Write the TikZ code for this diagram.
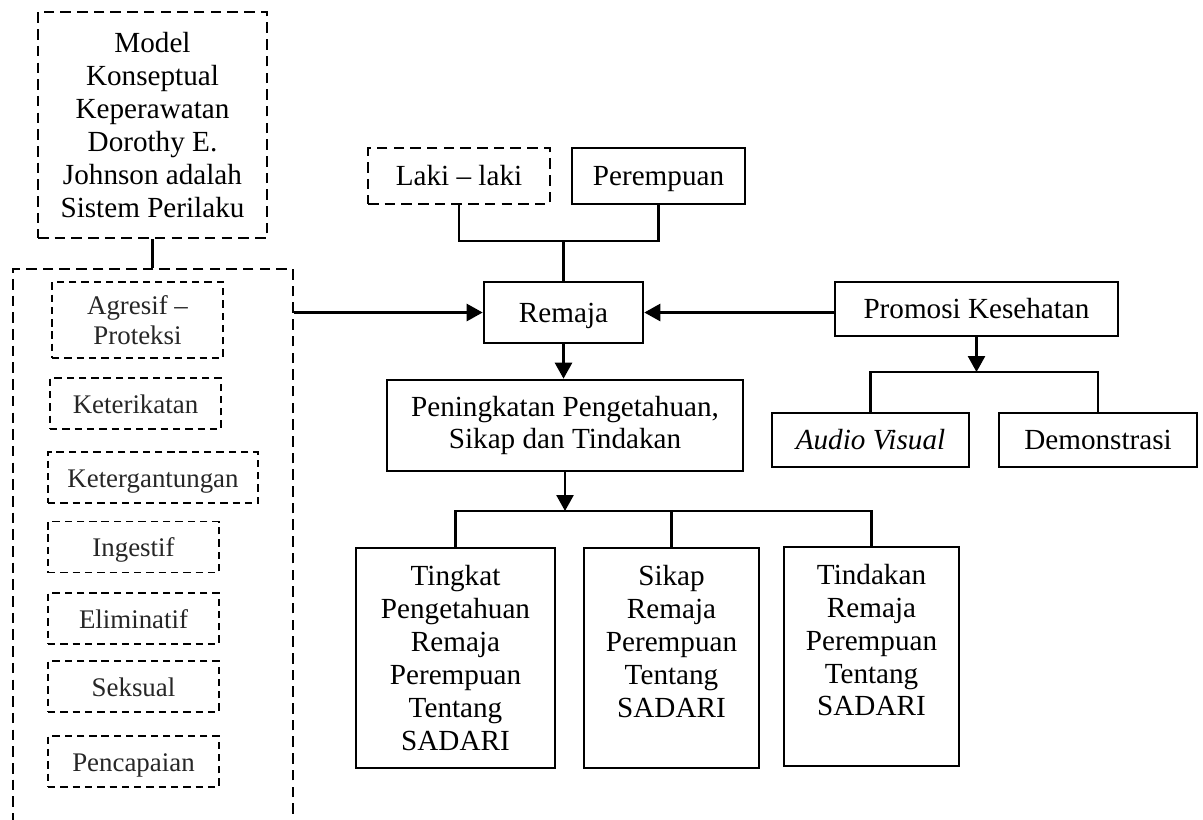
\documentclass[tikz,border=0pt]{standalone}
\usepackage{fontspec}
\setmainfont{Liberation Serif}
\usetikzlibrary{arrows.meta}

\begin{document}
\begin{tikzpicture}[x=0.02cm,y=-0.02cm,
    font=\fontsize{16.6}{18.7}\selectfont,
    box/.style={draw,line width=1.5pt,inner sep=2pt,align=center},
    dbox/.style={box,dash pattern=on 6pt off 3.5pt},
    oneline/.style={text height=11pt,text depth=0pt},
    sbox/.style={draw,line width=0.95pt,dash pattern=on 4.2pt off 2.8pt,align=center,
        text=black!85,font=\fontsize{15.3}{17.2}\selectfont,
        minimum width=3.42cm,minimum height=1.02cm},
    arr/.style={line width=1.5pt,-{Triangle[length=0.32cm,width=0.34cm]}},
    conn/.style={line width=1.5pt}]
\useasboundingbox (0,0) rectangle (1203,819);
\clip (0,0) rectangle (1203,819);
% left column
\node[dbox,minimum width=4.58cm,minimum height=4.52cm] (model) at (152.5,125)
    {Model\\Konseptual\\Keperawatan\\Dorothy E.\\Johnson adalah\\Sistem Perilaku};
\node[dbox,minimum width=5.6cm,minimum height=11.64cm] (perilaku) at (153,560) {};
\node[sbox,minimum height=1.52cm] (agresif) at (137.5,320) {Agresif --\\Proteksi};
\node[sbox,oneline] (keterikatan) at (135.5,403.5) {Keterikatan};
\node[sbox,oneline,minimum width=4.2cm] (ketergantungan) at (153,477.5) {Ketergantungan};
\node[sbox,oneline] (ingestif) at (133.5,547) {Ingestif};
\node[sbox,oneline] (eliminatif) at (133.5,618.5) {Eliminatif};
\node[sbox,oneline] (seksual) at (133.5,686.5) {Seksual};
\node[sbox,oneline] (pencapaian) at (133.5,761.5) {Pencapaian};
\draw[conn] (model.south) -- (model.south |- perilaku.north);
% middle
\node[dbox,oneline,minimum width=3.64cm,minimum height=1.12cm] (laki) at (459,176) {Laki -- laki};
\node[box,oneline,minimum width=3.46cm,minimum height=1.12cm] (perempuan) at (658.5,176) {Perempuan};
\node[box,oneline,minimum width=3.18cm,minimum height=1.22cm] (remaja) at (563.5,312.5) {Remaja};
\coordinate (lp) at (563.5,241);
\draw[conn] (laki.south) |- (lp) -| (perempuan.south);
\draw[conn] (lp) -- (remaja.north);
\draw[arr] (perilaku.east |- remaja.west) -- (remaja.west);
\node[box,minimum width=7.12cm,minimum height=1.82cm] (peningkatan) at (565,425.5)
    {Peningkatan Pengetahuan,\\Sikap dan Tindakan};
\draw[arr] (remaja.south) -- (remaja.south |- peningkatan.north);
% right
\node[box,oneline,minimum width=5.66cm,minimum height=1.08cm] (promosi) at (976.5,309) {Promosi Kesehatan};
\draw[arr] (promosi.west |- remaja.east) -- (remaja.east);
\node[box,oneline,minimum width=3.94cm,minimum height=1.08cm] (audio) at (870.5,440) {\textit{Audio Visual}};
\node[box,oneline,minimum width=3.96cm,minimum height=1.08cm] (demo) at (1098,440) {Demonstrasi};
\coordinate (pk) at (976.5,372);
\draw[arr] (promosi.south) -- (pk);
\draw[conn] (audio.north) |- (pk) -| (demo.north);
% bottom
\node[box,minimum width=3.98cm,minimum height=4.4cm] (tingkat) at (455.5,658)
    {Tingkat\\Pengetahuan\\Remaja\\Perempuan\\Tentang\\SADARI};
\node[box,minimum width=3.5cm,minimum height=4.4cm] (sikap) at (671.5,658)
    {Sikap\\Remaja\\Perempuan\\Tentang\\SADARI\\\mbox{}};
\node[box,minimum width=3.5cm,minimum height=4.38cm] (tindakan) at (871.5,656.5)
    {Tindakan\\Remaja\\Perempuan\\Tentang\\SADARI\\\mbox{}};
\coordinate (ps) at (565,511);
\draw[arr] (peningkatan.south) -- (ps);
\draw[conn] (tingkat.north) |- (ps) -| (tindakan.north);
\draw[conn] (sikap.north) -- (sikap.north |- ps);
\end{tikzpicture}
\end{document}
